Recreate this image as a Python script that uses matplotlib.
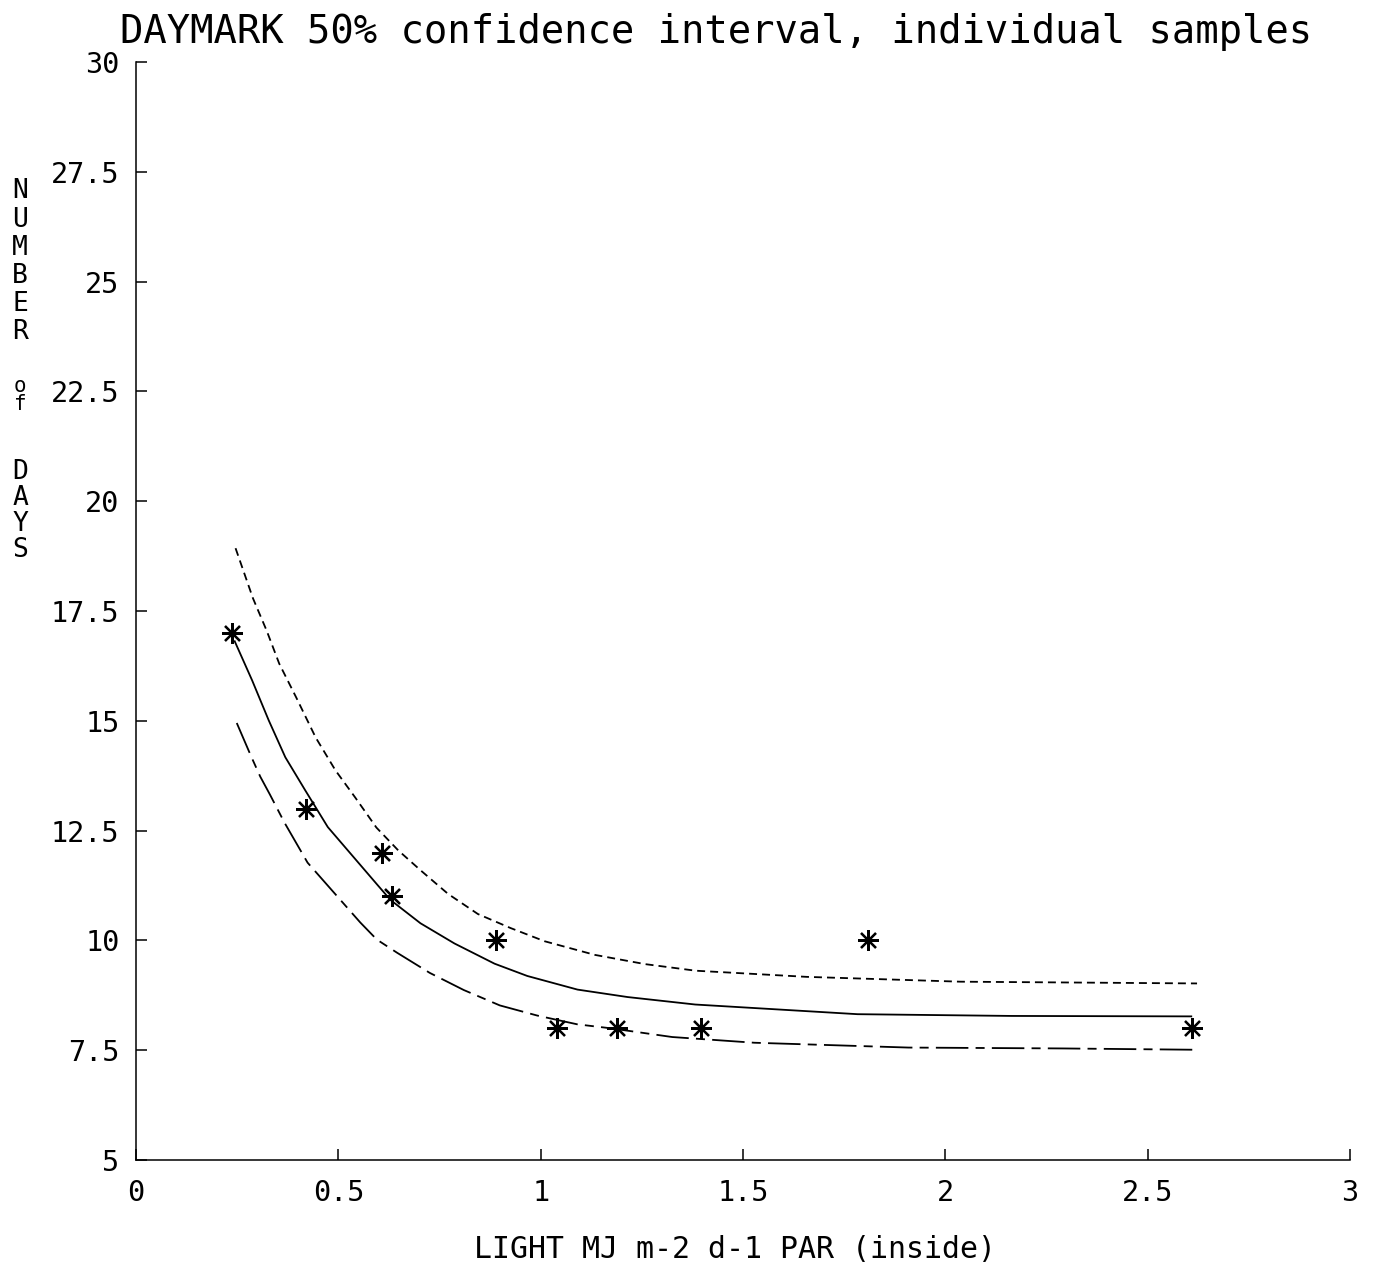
import matplotlib
matplotlib.use("Agg")
import matplotlib.pyplot as plt

# ---- data ----
sample_x = [0.236, 0.42, 0.608, 0.632, 0.889, 1.041, 1.188, 1.397, 1.81, 2.61]
sample_y = [17, 13, 12, 11, 10, 8, 8, 8, 10, 8]

fit_x = [0.243, 0.287, 0.328, 0.369, 0.418, 0.474, 0.597, 0.629, 0.703, 0.787, 0.886,
         0.967, 1.091, 1.215, 1.382, 1.783, 2.164, 2.61]
fit_y = [16.83, 15.92, 15.01, 14.17, 13.42, 12.58, 11.26, 10.92, 10.39, 9.93, 9.47,
         9.19, 8.88, 8.71, 8.54, 8.32, 8.28, 8.27]

upper_x = [0.246, 0.289, 0.323, 0.354, 0.396, 0.444, 0.493, 0.542, 0.594, 0.648, 0.704,
           0.771, 0.845, 0.926, 1.010, 1.134, 1.258, 1.383, 1.657, 2.037, 2.622]
upper_y = [18.93, 17.79, 17.05, 16.30, 15.53, 14.62, 13.87, 13.25, 12.57, 12.05, 11.59,
           11.06, 10.60, 10.28, 9.98, 9.67, 9.46, 9.31, 9.17, 9.06, 9.02]

lower_x = [0.249, 0.285, 0.307, 0.331, 0.367, 0.424, 0.554, 0.595, 0.645, 0.726, 0.810,
           0.899, 0.991, 1.090, 1.172, 1.325, 1.528, 1.909, 2.29, 2.62]
lower_y = [14.95, 14.18, 13.73, 13.32, 12.68, 11.77, 10.41, 10.02, 9.72, 9.26, 8.87,
           8.52, 8.29, 8.09, 8.00, 7.80, 7.67, 7.56, 7.54, 7.51]

x_ticks = [0, 0.5, 1, 1.5, 2, 2.5, 3]
x_ticklabels = ["0", "0.5", "1", "1.5", "2", "2.5", "3"]
y_ticks = [5, 7.5, 10, 12.5, 15, 17.5, 20, 22.5, 25, 27.5, 30]
y_ticklabels = ["5", "7.5", "10", "12.5", "15", "17.5", "20", "22.5", "25", "27.5", "30"]

title = "DAYMARK 50% confidence interval, individual samples"
xlabel = "LIGHT MJ m-2 d-1 PAR (inside)"
ylabel_words = ["NUMBER", "of", "DAYS"]

FONT = "DejaVu Sans Mono"
W, H = 1374, 1267
fig = plt.figure(figsize=(W / 100, H / 100), dpi=100)
fig.patch.set_facecolor("white")

left, right, bottom, top = 136, 1350, 1160, 62
ax = fig.add_axes([left / W, 1 - bottom / H, (right - left) / W, (bottom - top) / H])
ax.set_xlim(0, 3)
ax.set_ylim(5, 30)

for s in ("top", "right"):
    ax.spines[s].set_visible(False)
for s in ("left", "bottom"):
    ax.spines[s].set_linewidth(1.1)

lw = 1.3
ax.plot(fit_x, fit_y, color="black", lw=lw, solid_capstyle="butt", solid_joinstyle="round")
ax.plot(upper_x, upper_y, color="black", lw=lw, dashes=(4.4, 2.8))
ax.plot(lower_x, lower_y, color="black", lw=lw, dashes=(18, 4, 5, 4))
ax.plot(sample_x, sample_y, linestyle="none", marker=(8, 2, 0), markersize=15,
        markeredgewidth=1.6, color="black")

ax.set_xticks(x_ticks)
ax.set_xticklabels(x_ticklabels, fontfamily=FONT, fontsize=20.5)
ax.set_yticks(y_ticks)
ax.set_yticklabels(y_ticklabels, fontfamily=FONT, fontsize=20.5)
ax.tick_params(axis="both", direction="in", length=8, width=1.1)
ax.tick_params(axis="x", pad=14)
ax.tick_params(axis="y", pad=12)

fig.text(120 / W, 1 - 32 / H, title, fontfamily=FONT, fontsize=28, ha="left", va="center")
fig.text(735 / W, 1 - 1250 / H, xlabel, fontfamily=FONT, fontsize=21.5, ha="center", va="center")

# stacked vertical y label
letter_y = {"NUMBER": [191, 220, 248, 276, 304, 332], "of": [386, 404], "DAYS": [472, 498, 524, 550]}
for word in ylabel_words:
    for ch, py in zip(word, letter_y[word]):
        fs = 15 if word == "of" else 19
        fig.text(20 / W, 1 - py / H, ch, fontfamily=FONT, fontsize=fs, ha="center", va="center")

fig.savefig("out.png", dpi=100, facecolor="white")
